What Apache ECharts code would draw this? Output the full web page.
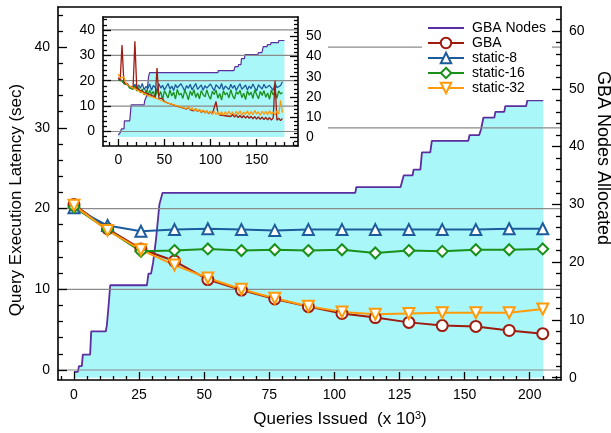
<!DOCTYPE html>
<html><head><meta charset="utf-8">
<script src="https://cdn.jsdelivr.net/npm/echarts@6/dist/echarts.min.js"></script>
<style>html,body{margin:0;padding:0;background:#fff}#c{width:611px;height:433px}</style>
</head><body><div id="c"></div>
<script>
const FONT = '"Liberation Sans", Arial, Helvetica, sans-serif';

// ---- tick positions / labels ----
const xTickPos = [0, 25, 50, 75, 100, 125, 150, 175];
const xTickText = ['0', '25', '50', '75', '100', '125', '150', '200'];
const xMinorPos = [-5,5,10,15,20,30,35,40,45,55,60,65,70,80,85,90,95,105,110,115,120,130,135,140,145,155,160,165,170,180,185];
const latencyTicks = [0, 10, 20, 30, 40];
const latencyMinor = [2,4,6,8,12,14,16,18,22,24,26,28,32,34,36,38,42,44];
const nodeTicks = [0, 10, 20, 30, 40, 50, 60];
const nodeMinor = [2,4,6,8,12,14,16,18,22,24,26,28,32,34,36,38,42,44,46,48,52,54,56,58,62];
const insetXTicks = [0, 50, 100, 150];
const insetXMinor = [-10,10,20,30,40,60,70,80,90,110,120,130,140,160,170,180,190];
const insetLatTicks = [0, 10, 20, 30, 40];
const insetLatMinor = [-4,-2,2,4,6,8,12,14,16,18,22,24,26,28,32,34,36,38,42,44];
const insetNodeTicks = [0, 10, 20, 30, 40, 50];
const insetNodeMinor = [-4,-2,2,4,6,8,12,14,16,18,22,24,26,28,32,34,36,38,42,44,46,48,52,54,56,58];

// ---- main chart data (x in thousands of queries, latency in sec) ----
const queries  = [0, 12.9, 25.7, 38.6, 51.4, 64.3, 77.1, 90.0, 102.9, 115.7, 128.6, 141.4, 154.3, 167.1, 180.0];
const gba      = [20.5, 17.5, 15.0, 13.5, 11.2, 9.9, 8.8, 7.85, 7.0, 6.5, 5.9, 5.5, 5.4, 4.9, 4.5];
const static8  = [20.1, 17.9, 17.2, 17.4, 17.5, 17.4, 17.3, 17.4, 17.4, 17.4, 17.4, 17.4, 17.4, 17.5, 17.5];
const static16 = [20.2, 17.4, 14.7, 14.8, 15.0, 14.8, 14.9, 14.8, 14.9, 14.5, 14.8, 14.7, 14.9, 14.9, 15.0];
const static32 = [20.4, 17.3, 14.9, 13.0, 11.4, 10.0, 8.9, 7.9, 7.2, 6.9, 7.0, 7.1, 7.1, 7.1, 7.55];

// ---- GBA nodes allocated (step trace) ----
const nodesX = [0, 1.5, 1.9, 3.0, 3.4, 6.2, 6.6, 12.2, 12.6, 13.2, 13.9, 28.0, 28.6, 29.6, 30.4, 31.5, 32.8, 34.0, 108.0, 108.4, 125.4, 126.0, 126.6, 130.0, 130.4, 133.0, 133.6, 136.8, 137.4, 151.4, 151.9, 155.6, 156.3, 157.2, 161.4, 161.8, 165.2, 165.6, 173.6, 174.1, 180.2];
const nodesY = [1, 1, 2, 2, 4, 4, 8, 8, 9, 12, 16, 16, 18, 18, 20, 24, 30, 32, 32, 33, 33, 34, 35, 35, 36, 36, 39, 39, 41, 41, 42, 42, 43, 45, 45, 46, 46, 47, 47, 48, 48];

// ---- inset raw traces ----
const insetX = [0,2,4,6,8,10,12,14,16,18, 20,22,24,26,28,30,32,34,36,38, 40,42,44,46,48,50,52,54,56,58, 60,62,64,66,68,70,72,74,76,78, 80,82,84,86,88,90,92,94,96,98, 100,102,104,106,108,110,112,114,116,118, 120,122,124,126,128,130,132,134,136,138, 140,142,144,146,148,150,152,154,156,158, 160,162,164,166,168,170,172,174,176,178];
const insetStatic8 = [20.5,19.8,20.1,19.0,18.6,18.9,17.8,18.3,17.2,18.6, 16.6,18.4,17.0,18.9,16.4,17.8,16.9,18.7,16.2,18.1, 17.3,16.0,18.8,17.1,18.2,16.3,17.6,18.9,16.7,17.9, 16.1,18.5,17.2,16.5,18.8,17.4,16.0,18.1,17.0,18.6, 16.4,17.7,18.9,16.6,17.5,18.3,16.2,18.0,17.1,16.5, 18.7,17.3,16.1,18.4,17.6,16.8,18.9,16.3,17.9,17.2, 16.5,18.6,17.0,18.2,16.1,17.7,18.8,16.6,17.4,18.3, 16.3,17.9,16.9,18.7,17.2,16.0,18.4,17.5,16.7,18.6, 17.1,16.4,18.2,17.6,16.2,18.9,17.3,16.8,18.1,19.6];
const insetStatic16 = [20.2,19.6,19.9,18.8,18.1,18.5,17.2,17.9,16.6,17.8, 15.9,17.3,15.2,16.8,14.4,16.5,13.9,16.2,14.6,15.8, 13.3,16.4,14.1,15.7,12.6,16.0,14.7,13.2,16.3,14.0, 15.5,12.8,16.6,14.3,15.1,13.0,16.2,14.8,12.5,15.9, 14.2,16.5,13.4,15.2,12.9,16.1,14.5,13.6,16.4,14.1, 12.7,15.8,14.6,16.3,13.1,15.0,12.4,16.0,14.4,15.3, 13.2,16.5,14.0,12.8,15.7,14.7,16.2,13.3,15.1,12.6, 16.0,14.3,15.5,13.0,16.4,14.6,12.9,15.8,14.2,16.1, 13.5,15.2,12.7,16.3,14.4,15.6,13.1,16.0,14.8,15.4];
const insetGBA = [21.2,20.0,34.0,19.6,18.7,19.1,17.9,18.4,17.2,35.5, 16.9,17.4,16.1,16.6,15.3,15.9,14.8,15.4,14.2,14.7, 13.6,25.0,13.1,12.4,13.0,11.8,12.5,11.2,11.9,10.7, 11.3,10.2,10.9,9.7,10.4,9.3,10.0,8.8,9.6,8.5, 9.2,8.1,8.9,7.8,8.6,7.5,8.3,7.3,8.1,7.0, 7.8,6.9,7.6,11.8,7.4,6.5,7.2,6.3,7.0,6.1, 6.8,5.9,6.7,5.7,6.5,5.5,6.3,5.4,6.2,5.3, 6.1,5.2,6.0,5.0,5.9,4.9,5.8,4.8,5.7,4.7, 5.6,4.6,5.5,4.5,5.4,20.0,4.4,5.3,4.3,5.2];
const insetStatic32 = [22.6,21.0,20.4,21.5,19.2,18.4,18.9,17.5,18.1,16.9, 17.4,16.0,16.6,15.3,15.9,14.6,15.2,13.9,14.6,13.4, 14.1,12.9,13.5,12.3,12.9,11.7,12.4,11.2,11.9,10.8, 11.5,10.3,11.0,9.9,10.6,9.4,10.1,9.0,9.8,8.6, 9.4,8.2,9.1,7.9,8.7,7.6,8.5,7.3,8.2,7.1, 8.0,6.8,7.9,6.6,7.8,6.5,7.7,6.4,7.8,6.6, 8.0,6.5,7.7,6.3,7.9,6.7,8.2,6.4,7.6,6.8, 8.1,6.5,7.8,6.6,8.3,6.9,7.7,6.4,8.0,6.7, 7.9,6.6,8.2,6.8,7.7,6.5,8.1,6.9,12.3,7.4];

// ---- styling ----
const PURPLE = '#5a2e9e', CYAN = '#aaf7fa', GRAY = '#8a8a8a';
const RED = '#9e1b0f', BLUE = '#1d5c9c', GREEN = '#1a901a', ORANGE = '#ff9a0a';
const DOWN_TRI = 'path://M0,0L10,0L5,9Z';

const XMIN = -6.14, XMAX = 187.0, LMIN = -1.24, LMAX = 44.98, RMIN = -0.40, RMAX = 64.16;
const IXMIN = -16.6, IXMAX = 194.9, ILMIN = -5.71, ILMAX = 45.08, IRMIN = -4.48, IRMAX = 59.7;

const zip = (a, b) => a.map((v, i) => [v, b[i]]);

function axis(o) {
  return Object.assign({
    type: 'value', z: 50, splitLine: {show: false}, minorTick: {show: false},
    axisLine: {show: true, onZero: false, lineStyle: {color: '#000', width: 1.6}},
    axisTick: {show: false}, axisLabel: {show: false}, axisPointer: {show: false}
  }, o);
}
const noLine = {show: false, onZero: false};
function ticks(vals, len) {
  return {show: true, inside: true, length: len, customValues: vals, lineStyle: {color: '#000', width: 1.3}};
}
function labels(vals, margin, fmt) {
  return {show: true, customValues: vals, margin: margin, color: '#000', fontSize: 14, fontFamily: FONT,
          formatter: fmt || (v => String(v))};
}

const xAxis = [
  // main
  axis({gridIndex: 0, position: 'bottom', min: XMIN, max: XMAX, axisTick: ticks(xTickPos, 8),
        axisLabel: labels(xTickPos, 8, v => xTickText[xTickPos.indexOf(v)])}),
  axis({gridIndex: 0, position: 'bottom', min: XMIN, max: XMAX, axisLine: noLine, axisTick: ticks(xMinorPos, 4)}),
  axis({gridIndex: 0, position: 'top', min: XMIN, max: XMAX}),
  // inset
  axis({gridIndex: 1, position: 'bottom', min: IXMIN, max: IXMAX, z: 60, axisTick: ticks(insetXTicks, 7),
        axisLabel: labels(insetXTicks, 7)}),
  axis({gridIndex: 1, position: 'bottom', min: IXMIN, max: IXMAX, z: 60, axisLine: noLine, axisTick: ticks(insetXMinor, 4)}),
  axis({gridIndex: 1, position: 'top', min: IXMIN, max: IXMAX, z: 60})
];
const yAxis = [
  // main
  axis({gridIndex: 0, position: 'left', min: LMIN, max: LMAX, axisTick: ticks(latencyTicks, 9),
        axisLabel: labels(latencyTicks, 8)}),
  axis({gridIndex: 0, position: 'left', min: LMIN, max: LMAX, axisLine: noLine, axisTick: ticks(latencyMinor, 5)}),
  axis({gridIndex: 0, position: 'right', min: RMIN, max: RMAX, axisTick: ticks(nodeTicks, 9),
        axisLabel: labels(nodeTicks, 8)}),
  axis({gridIndex: 0, position: 'right', min: RMIN, max: RMAX, axisLine: noLine, axisTick: ticks(nodeMinor, 5)}),
  // inset
  axis({gridIndex: 1, position: 'left', min: ILMIN, max: ILMAX, z: 60, axisTick: ticks(insetLatTicks, 8),
        axisLabel: labels(insetLatTicks, 8)}),
  axis({gridIndex: 1, position: 'left', min: ILMIN, max: ILMAX, z: 60, axisLine: noLine, axisTick: ticks(insetLatMinor, 4)}),
  axis({gridIndex: 1, position: 'right', min: IRMIN, max: IRMAX, z: 60, axisTick: ticks(insetNodeTicks, 8),
        axisLabel: labels(insetNodeTicks, 8)}),
  axis({gridIndex: 1, position: 'right', min: IRMIN, max: IRMAX, z: 60, axisLine: noLine, axisTick: ticks(insetNodeMinor, 4)})
];

const series = [];
// main: nodes fill + step line
series.push({name: 'GBA Nodes', type: 'line', xAxisIndex: 0, yAxisIndex: 2, data: zip(nodesX, nodesY),
  symbol: 'none', z: 1, silent: true,
  itemStyle: {color: 'rgba(0,0,0,0)', borderWidth: 0},
  lineStyle: {color: PURPLE, width: 1.8}, areaStyle: {color: CYAN, opacity: 1, origin: 'auto'}});
// main gray gridlines
latencyTicks.forEach(v => series.push({type: 'line', xAxisIndex: 0, yAxisIndex: 0, data: [[XMIN, v], [XMAX, v]],
  symbol: 'none', silent: true, z: 2, lineStyle: {color: GRAY, width: 1.2}}));
function mainLine(name, vals, color, symbol) {
  return {name: name, type: 'line', xAxisIndex: 0, yAxisIndex: 0, data: zip(queries, vals),
    symbol: symbol, symbolSize: 11, showSymbol: true, z: 4,
    itemStyle: {color: '#fff', borderColor: color, borderWidth: 2},
    lineStyle: {color: color, width: 2}};
}
series.push(mainLine('GBA', gba, RED, 'circle'));
series.push(mainLine('static-8', static8, BLUE, 'triangle'));
series.push(mainLine('static-16', static16, GREEN, 'diamond'));
series.push(mainLine('static-32', static32, ORANGE, DOWN_TRI));

// inset
series.push({name: 'inset-nodes', type: 'line', xAxisIndex: 3, yAxisIndex: 6, data: zip(nodesX, nodesY),
  symbol: 'none', z: 11, silent: true, lineStyle: {color: PURPLE, width: 1.2},
  areaStyle: {color: CYAN, opacity: 1, origin: 'auto'}});
insetLatTicks.forEach(v => series.push({type: 'line', xAxisIndex: 3, yAxisIndex: 4, data: [[IXMIN, v], [IXMAX, v]],
  symbol: 'none', silent: true, z: 12, lineStyle: {color: GRAY, width: 1.2}}));
function insetLine(name, vals, color) {
  return {name: name, type: 'line', xAxisIndex: 3, yAxisIndex: 4, data: zip(insetX, vals),
    symbol: 'none', silent: true, z: 13, lineStyle: {color: color, width: 1.3}};
}
series.push(insetLine('inset-static-8', insetStatic8, BLUE));
series.push(insetLine('inset-static-16', insetStatic16, GREEN));
series.push(insetLine('inset-GBA', insetGBA, RED));
series.push(insetLine('inset-static-32', insetStatic32, ORANGE));

const chart = echarts.init(document.getElementById('c'), null, {renderer: 'canvas'});
chart.setOption({
  animation: false,
  backgroundColor: '#fff',
  grid: [
    {left: 58, top: 7, width: 503, height: 373},
    {left: 103, top: 17, width: 195, height: 129}
  ],
  xAxis: xAxis,
  yAxis: yAxis,
  legend: {
    data: [
      {name: 'GBA Nodes', itemStyle: {color: 'rgba(0,0,0,0)', borderWidth: 0}, lineStyle: {color: PURPLE, width: 1.8}},
      {name: 'GBA'}, {name: 'static-8'}, {name: 'static-16'}, {name: 'static-32'}
    ],
    orient: 'vertical', left: 422, top: 16, itemWidth: 36, itemHeight: 13, itemGap: 1,
    padding: [5, 6, 5, 5], backgroundColor: '#fff', selectedMode: false, z: 30,
    itemStyle: {borderWidth: 2},
    textStyle: {fontSize: 14, fontFamily: FONT, color: '#000', lineHeight: 14, padding: [0, 0, 0, 3]}
  },
  graphic: [
    {type: 'rect', z: 10, silent: true, shape: {x: 59, y: 8, width: 269, height: 164}, style: {fill: '#fff'}},
    {type: 'text', z: 60, x: 16, y: 200, rotation: Math.PI / 2,
      style: {text: 'Query Execution Latency (sec)', fill: '#000', font: '17px ' + FONT,
              align: 'center', verticalAlign: 'middle', textAlign: 'center', textVerticalAlign: 'middle'}},
    {type: 'text', z: 60, x: 603, y: 158, rotation: -Math.PI / 2,
      style: {text: 'GBA Nodes Allocated', fill: '#000', font: '18px ' + FONT,
              align: 'center', verticalAlign: 'middle', textAlign: 'center', textVerticalAlign: 'middle'}},
    {type: 'text', z: 60, x: 340, y: 419,
      style: {text: '{a|Queries Issued  (x 10}{b|3}{a|)}', align: 'center', verticalAlign: 'middle',
              textAlign: 'center', textVerticalAlign: 'middle',
              rich: {a: {fontSize: 17, fontFamily: FONT, fill: '#000', color: '#000'},
                     b: {fontSize: 11, fontFamily: FONT, fill: '#000', color: '#000', verticalAlign: 'top'}}}}
  ],
  series: series
});
</script>
</body></html>
